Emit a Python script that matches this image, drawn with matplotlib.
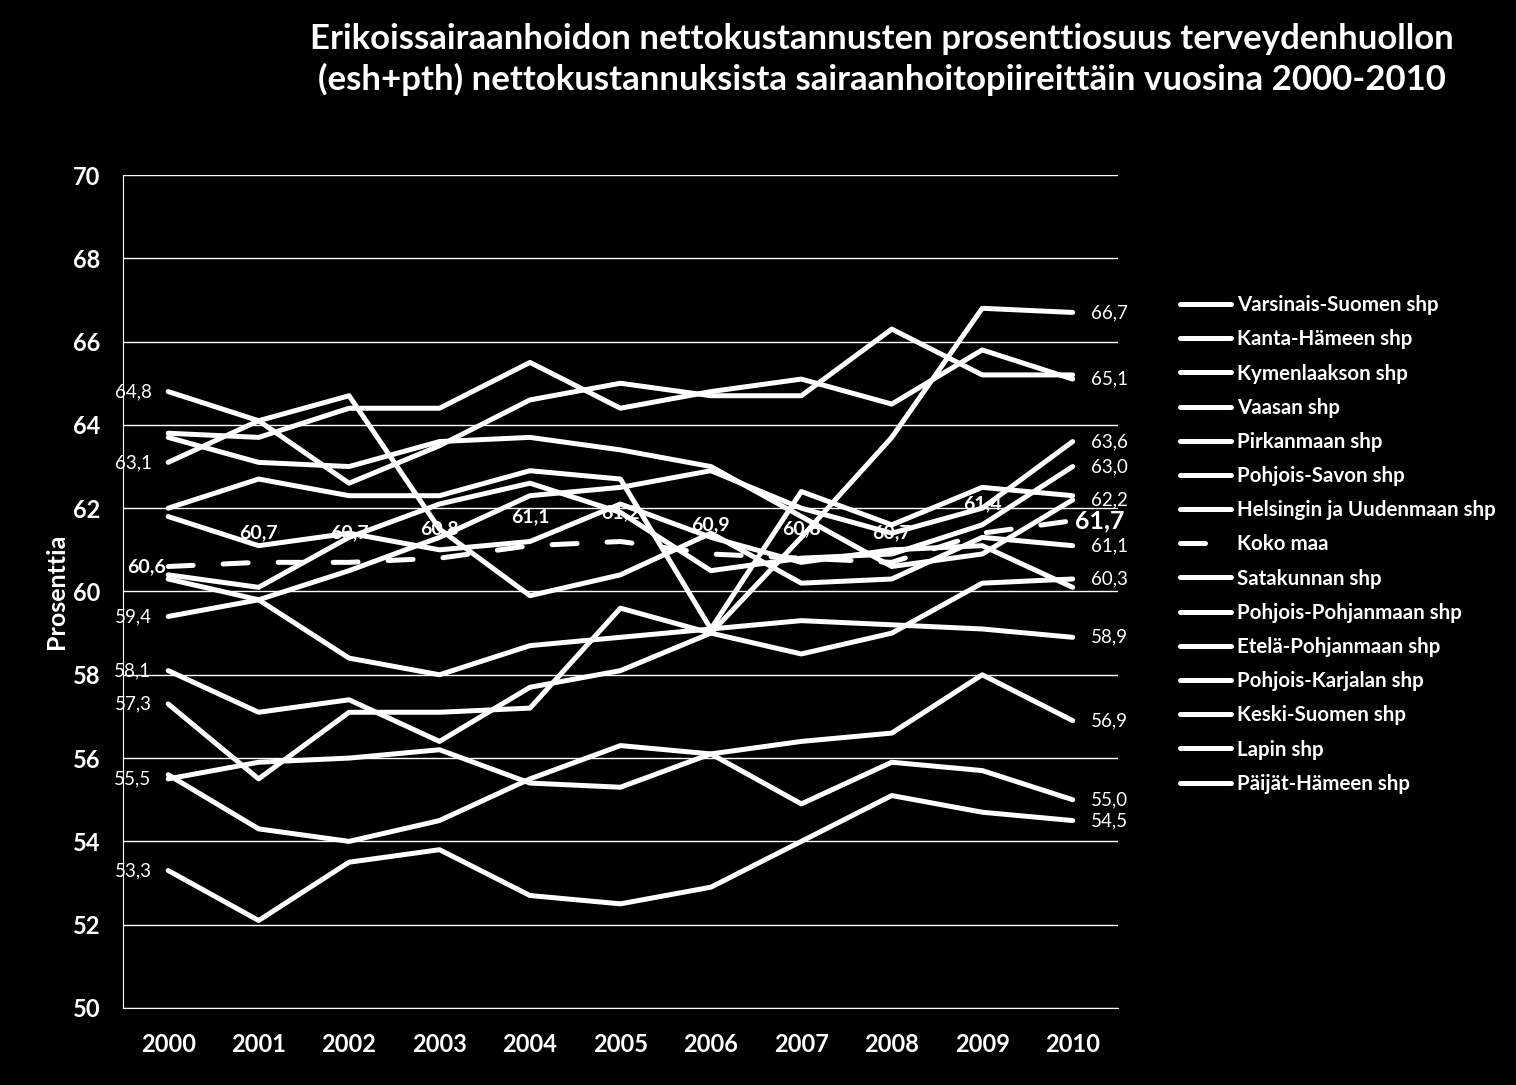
import numpy as np
import matplotlib.pyplot as plt

plt.rcParams['font.family'] = ['Lato', 'DejaVu Sans']

############
### DATA ###
############

years = ['2000', '2001', '2002', '2003', '2004', '2005', '2006', '2007', '2008', '2009', '2010']

# Osuudet (%) sairaanhoitopiireittäin, luettu kuvasta
varsinais_suomi = [64.8, 64.1, 62.6, 63.5, 64.6, 65.0, 64.7, 64.7, 66.3, 65.2, 65.2]
kanta_hame = [63.8, 63.7, 64.4, 64.4, 65.5, 64.4, 64.8, 65.1, 64.5, 65.8, 65.1]
kymenlaakso = [63.1, 64.1, 64.7, 61.5, 59.9, 60.4, 61.4, 60.2, 60.3, 61.3, 61.1]
vaasa = [63.7, 63.1, 63.0, 63.6, 63.7, 63.4, 63.0, 61.8, 60.6, 60.9, 62.2]
pirkanmaa = [62.0, 62.7, 62.3, 62.3, 62.9, 62.7, 59.1, 62.4, 61.6, 62.5, 62.3]
pohjois_savo = [59.4, 59.8, 60.5, 61.3, 62.3, 62.5, 62.9, 62.0, 61.4, 62.0, 63.6]
hus = [58.1, 57.1, 57.4, 56.4, 57.7, 58.1, 59.0, 61.3, 63.7, 66.8, 66.7]
koko_maa = [60.6, 60.7, 60.7, 60.8, 61.1, 61.2, 60.9, 60.8, 60.7, 61.4, 61.7]
satakunta = [60.4, 60.1, 61.3, 62.1, 62.6, 61.9, 60.5, 60.8, 60.9, 61.6, 63.0]
pohjois_pohjanmaa = [61.8, 61.1, 61.4, 61.0, 61.2, 62.1, 61.3, 60.7, 61.0, 61.1, 60.1]
etela_pohjanmaa = [60.3, 59.8, 58.4, 58.0, 58.7, 58.9, 59.1, 59.3, 59.2, 59.1, 58.9]
pohjois_karjala = [57.3, 55.5, 57.1, 57.1, 57.2, 59.6, 59.0, 58.5, 59.0, 60.2, 60.3]
keski_suomi = [55.5, 55.9, 56.0, 56.2, 55.4, 55.3, 56.1, 56.4, 56.6, 58.0, 56.9]
lappi = [55.6, 54.3, 54.0, 54.5, 55.5, 56.3, 56.1, 54.9, 55.9, 55.7, 55.0]
paijat_hame = [53.3, 52.1, 53.5, 53.8, 52.7, 52.5, 52.9, 54.0, 55.1, 54.7, 54.5]

names = ['Varsinais-Suomen shp', 'Kanta-Hämeen shp', 'Kymenlaakson shp', 'Vaasan shp',
         'Pirkanmaan shp', 'Pohjois-Savon shp', 'Helsingin ja Uudenmaan shp', 'Koko maa',
         'Satakunnan shp', 'Pohjois-Pohjanmaan shp', 'Etelä-Pohjanmaan shp',
         'Pohjois-Karjalan shp', 'Keski-Suomen shp', 'Lapin shp', 'Päijät-Hämeen shp']
values = [varsinais_suomi, kanta_hame, kymenlaakso, vaasa, pirkanmaa, pohjois_savo, hus,
          koko_maa, satakunta, pohjois_pohjanmaa, etela_pohjanmaa, pohjois_karjala,
          keski_suomi, lappi, paijat_hame]

# Mille sarjoille näytetään arvo alussa (2000) ja lopussa (2010)
labels_first = ['Varsinais-Suomen shp', 'Kymenlaakson shp', 'Pohjois-Savon shp',
                'Helsingin ja Uudenmaan shp', 'Pohjois-Karjalan shp', 'Keski-Suomen shp',
                'Päijät-Hämeen shp']
labels_last = ['Helsingin ja Uudenmaan shp', 'Kanta-Hämeen shp', 'Pohjois-Savon shp',
               'Satakunnan shp', 'Vaasan shp', 'Kymenlaakson shp', 'Pohjois-Karjalan shp',
               'Etelä-Pohjanmaan shp', 'Keski-Suomen shp', 'Lapin shp', 'Päijät-Hämeen shp']

title = ('Erikoissairaanhoidon nettokustannusten prosenttiosuus terveydenhuollon\n'
         '(esh+pth) nettokustannuksista sairaanhoitopiireittäin vuosina 2000-2010')


def fi(v):
    return f'{v:.1f}'.replace('.', ',')


############
### PLOT ###
############

fig = plt.figure(figsize=(15.16, 10.85), dpi=100, facecolor='black')
ax = fig.add_axes([0.0811, 0.071, 0.6563, 0.7677], facecolor='black')

x = np.arange(len(years))
for name, vals in zip(names, values):
    if name == 'Koko maa':
        ax.plot(x, vals, color='white', lw=3.6, dashes=(5, 6), dash_capstyle='round',
                label=name, zorder=4)
        for i, v in enumerate(vals):
            if i == 0:
                ax.annotate(fi(v), (x[i], v), xytext=(-2, 0), textcoords='offset points',
                            ha='right', va='center', color='white', fontsize=14,
                            fontweight='bold', zorder=2.5)
            elif i == len(vals) - 1:
                ax.annotate(fi(v), (x[i], v), xytext=(2, 0), textcoords='offset points',
                            ha='left', va='center', color='white', fontsize=18,
                            fontweight='bold', zorder=2.5)
            else:
                ax.annotate(fi(v), (x[i], v), xytext=(0, 21), textcoords='offset points',
                            ha='center', va='center', color='white', fontsize=14,
                            fontweight='bold', zorder=2.5)
    else:
        ax.plot(x, vals, color='white', lw=3.6, solid_capstyle='round',
                solid_joinstyle='round', label=name, zorder=3)
        if name in labels_first:
            ax.annotate(fi(vals[0]), (x[0], vals[0]), xytext=(-12, 0),
                        textcoords='offset points', ha='right', va='center',
                        color='white', fontsize=13.5, zorder=2.5)
        if name in labels_last:
            ax.annotate(fi(vals[-1]), (x[-1], vals[-1]), xytext=(13, 0),
                        textcoords='offset points', ha='left', va='center',
                        color='white', fontsize=13.5, zorder=2.5)

ax.set_xlim(-0.5, len(years) - 0.5)
ax.set_ylim(50, 70)
ax.set_yticks(np.arange(50, 71, 2))
ax.set_xticks(x)
ax.set_xticklabels(years)
ax.yaxis.grid(True, color='white', lw=1)
ax.set_axisbelow(True)
for s in ['top', 'right']:
    ax.spines[s].set_visible(False)
for s in ['left', 'bottom']:
    ax.spines[s].set_color('white')
ax.tick_params(axis='both', colors='white', length=0, labelsize=17)
ax.tick_params(axis='y', pad=16)
ax.tick_params(axis='x', pad=18)
for t in ax.get_xticklabels() + ax.get_yticklabels():
    t.set_fontweight('bold')
ax.set_ylabel('Prosenttia', color='white', fontsize=18, fontweight='bold', labelpad=4)

fig.text(0.582, 0.979, title, ha='center', va='top', color='white', fontsize=25,
         fontweight='bold', linespacing=1.3)

leg = fig.legend(loc='upper left', bbox_to_anchor=(0.766, 0.745), frameon=False,
                 handlelength=2.5, handletextpad=0.3, labelspacing=0.69,
                 labelcolor='white', prop={'weight': 'bold', 'size': 14.8})

fig.savefig('out.png', dpi=100, facecolor='black')
